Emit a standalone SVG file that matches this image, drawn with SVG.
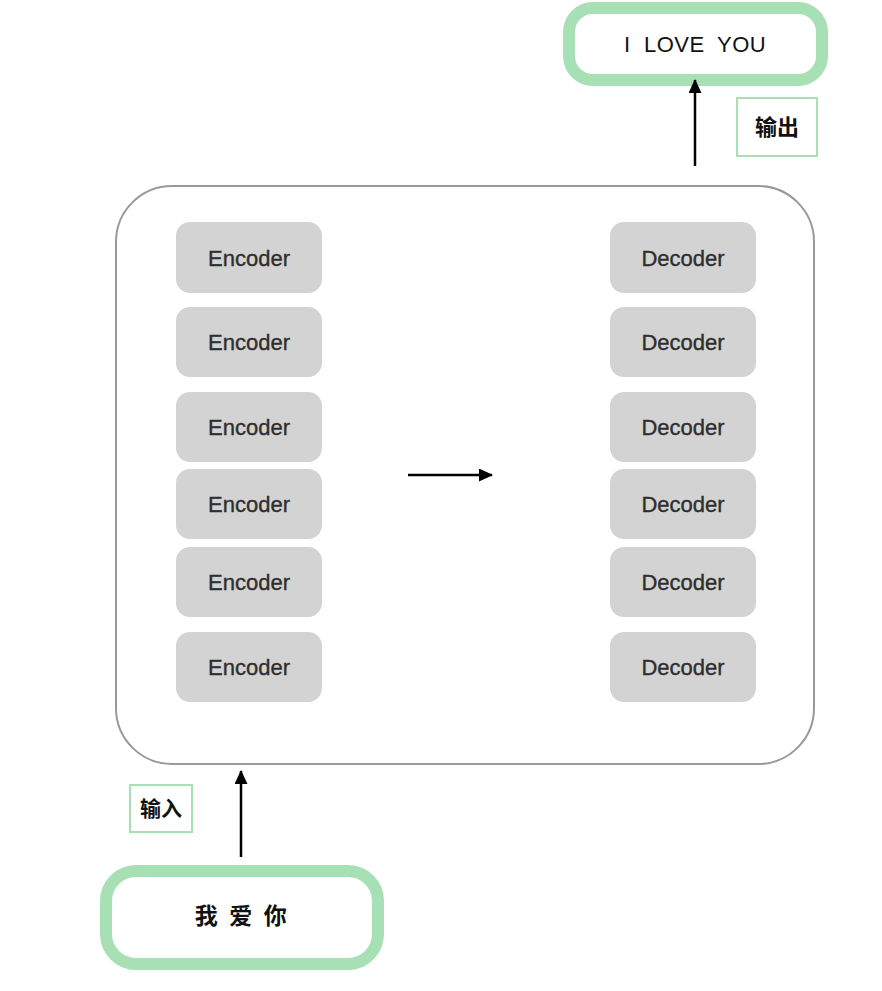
<svg xmlns="http://www.w3.org/2000/svg" width="882" height="991" viewBox="0 0 882 991">
<style>
.blk{fill:#d3d3d3;stroke:none}
.blt{font-family:"Liberation Sans",Arial,sans-serif;font-size:22px;fill:#2e2e2e;stroke:#2e2e2e;stroke-width:0.35;text-anchor:middle;dominant-baseline:central}
.io{fill:#fff;stroke:#a6e0b4;stroke-width:12}
.tag{fill:#fff;stroke:#a6e0b4;stroke-width:2}
.cjk{font-family:"Liberation Sans","Noto Sans CJK SC",sans-serif;font-weight:bold;fill:#111;text-anchor:middle;dominant-baseline:central}
.conn{stroke:#000;stroke-width:2.5;fill:none}
</style>
<defs>
<marker id="ah" viewBox="0 0 14 13" refX="13" refY="6.5" markerWidth="14" markerHeight="13" markerUnits="userSpaceOnUse" orient="auto">
<path d="M0,0 L14,6.5 L0,13 z" fill="#000"/>
</marker>
</defs>
<rect width="882" height="991" fill="#fff"/>
<g id="container">
<rect x="116" y="186" width="698" height="578" rx="56" fill="#fff" stroke="#999" stroke-width="2"/>
</g>
<g id="encoders">
<g id="enc1"><rect class="blk" x="176" y="222" width="146" height="71" rx="14"/><text class="blt" x="249" y="258">Encoder</text></g>
<g id="enc2"><rect class="blk" x="176" y="307" width="146" height="70" rx="14"/><text class="blt" x="249" y="342">Encoder</text></g>
<g id="enc3"><rect class="blk" x="176" y="392" width="146" height="70" rx="14"/><text class="blt" x="249" y="427">Encoder</text></g>
<g id="enc4"><rect class="blk" x="176" y="469" width="146" height="70" rx="14"/><text class="blt" x="249" y="504">Encoder</text></g>
<g id="enc5"><rect class="blk" x="176" y="547" width="146" height="70" rx="14"/><text class="blt" x="249" y="582">Encoder</text></g>
<g id="enc6"><rect class="blk" x="176" y="632" width="146" height="70" rx="14"/><text class="blt" x="249" y="667">Encoder</text></g>
</g>
<g id="decoders">
<g id="dec1"><rect class="blk" x="610" y="222" width="146" height="71" rx="14"/><text class="blt" x="683" y="258">Decoder</text></g>
<g id="dec2"><rect class="blk" x="610" y="307" width="146" height="70" rx="14"/><text class="blt" x="683" y="342">Decoder</text></g>
<g id="dec3"><rect class="blk" x="610" y="392" width="146" height="70" rx="14"/><text class="blt" x="683" y="427">Decoder</text></g>
<g id="dec4"><rect class="blk" x="610" y="469" width="146" height="70" rx="14"/><text class="blt" x="683" y="504">Decoder</text></g>
<g id="dec5"><rect class="blk" x="610" y="547" width="146" height="70" rx="14"/><text class="blt" x="683" y="582">Decoder</text></g>
<g id="dec6"><rect class="blk" x="610" y="632" width="146" height="70" rx="14"/><text class="blt" x="683" y="667">Decoder</text></g>
</g>
<g id="output">
<rect class="io" x="569" y="8" width="253" height="72" rx="24"/>
<text y="44" font-family="Liberation Sans,Arial,sans-serif" font-size="22" fill="#111" dominant-baseline="central" letter-spacing="0.5"><tspan x="624">I</tspan><tspan x="644">LOVE</tspan><tspan x="717">YOU</tspan></text>
</g>
<g id="output-label">
<rect class="tag" x="737" y="98" width="80" height="58"/>
<text class="cjk" x="777" y="127" font-size="22">输出</text>
</g>
<g id="input">
<rect class="io" x="106" y="871" width="272" height="93" rx="30"/>
<text class="cjk" x="242" y="916" font-size="23" letter-spacing="2.5">我 爱 你</text>
</g>
<g id="input-label">
<rect class="tag" x="130" y="785" width="62" height="47"/>
<text class="cjk" x="161" y="808" font-size="21">输入</text>
</g>
<g id="connectors">
<line class="conn" x1="695" y1="166" x2="695" y2="80" marker-end="url(#ah)"/>
<line class="conn" x1="408" y1="475" x2="492" y2="475" marker-end="url(#ah)"/>
<line class="conn" x1="241" y1="857" x2="241" y2="771" marker-end="url(#ah)"/>
</g>
</svg>
